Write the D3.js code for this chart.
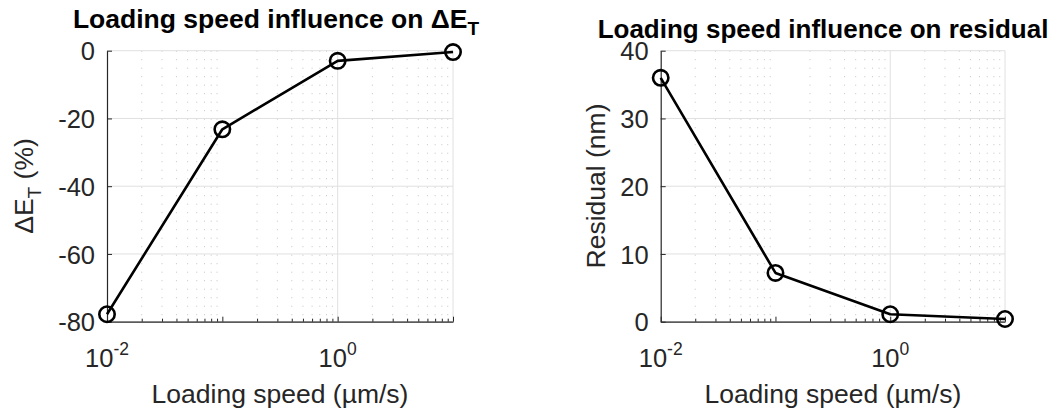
<!DOCTYPE html>
<html>
<head>
<meta charset="utf-8">
<script src="https://cdn.jsdelivr.net/npm/d3@7"></script>
<style>
  html, body { margin: 0; padding: 0; background: #fff; }
  svg { display: block; }
  text { font-family: "Liberation Sans", Arial, Helvetica, sans-serif; }
</style>
</head>
<body>
<svg id="chart" width="1064" height="414"></svg>
<script>
// ---- data ----
const speeds = [0.01, 0.1, 1, 10];                // loading speed (µm/s)
const deltaE = [-77.8, -23.2, -3.0, -0.4];       // ΔE_T (%)
const residual = [36.0, 7.2, 1.1, 0.4];          // residual (nm)
const xTickValues = [0.01, 1];
const xTickExponents = ["-2", "0"];
const leftYTicks = [-80, -60, -40, -20, 0];
const rightYTicks = [0, 10, 20, 30, 40];

const svg = d3.select("#chart");
const axisColor = "#262626";
const FONT = '"Liberation Sans", Arial, Helvetica, sans-serif';

function panel(opts) {
  const g = svg.append("g");
  const x = d3.scaleLog().domain([0.01, 10]).range([opts.left, opts.right]);
  const y = d3.scaleLinear().domain(opts.yDomain).range([opts.bottom, opts.top]);

  // minor vertical grid (dotted)
  const minor = [];
  [0.01, 0.1, 1].forEach(d => { for (let k = 2; k <= 9; k++) minor.push(d * k); });
  g.append("g").selectAll("line").data(minor).join("line")
    .attr("x1", d => x(d)).attr("x2", d => x(d))
    .attr("y1", opts.top).attr("y2", opts.bottom)
    .attr("stroke", "#c4c4c4").attr("stroke-width", 1)
    .attr("stroke-dasharray", "1,7.5");

  // major grid
  g.append("g").selectAll("line").data([1, 10]).join("line")
    .attr("x1", d => x(d)).attr("x2", d => x(d))
    .attr("y1", opts.top).attr("y2", opts.bottom)
    .attr("stroke", "#e0e0e0").attr("stroke-width", 1);
  g.append("g").selectAll("line").data(opts.yTicks).join("line")
    .attr("x1", opts.left).attr("x2", opts.right)
    .attr("y1", d => y(d)).attr("y2", d => y(d))
    .attr("stroke", "#e0e0e0").attr("stroke-width", 1);

  // x axis
  const xAxis = d3.axisBottom(x).tickValues(minor.concat([0.01, 0.1, 1, 10]))
    .tickSize(0).tickFormat("");
  const xg = g.append("g").attr("transform", `translate(0,${opts.bottom})`).call(xAxis);
  xg.select(".domain").attr("stroke", axisColor).attr("stroke-width", 1.2);
  xg.selectAll(".tick line").attr("y2", d => ([0.01, 0.1, 1, 10].includes(d)) ? -5 : -3)
    .attr("stroke", axisColor);
  // x tick labels with superscripts
  const lab = g.append("g").selectAll("text").data(xTickValues).join("text")
    .attr("x", d => x(d)).attr("y", 367)
    .attr("text-anchor", "middle").attr("fill", axisColor)
    .style("font-size", "25.5px");
  lab.append("tspan").text("10");
  lab.append("tspan").attr("dy", -12.5).style("font-size", "17.5px")
    .text((d, i) => xTickExponents[i]);

  // y axis
  const yAxis = d3.axisLeft(y).tickValues(opts.yTicks).tickSize(0).tickPadding(12)
    .tickFormat(d => String(d));
  const yg = g.append("g").attr("transform", `translate(${opts.left},0)`).call(yAxis);
  yg.select(".domain").attr("stroke", axisColor).attr("stroke-width", 1.2);
  yg.selectAll(".tick line").attr("x2", 5).attr("stroke", axisColor);
  yg.selectAll(".tick text").attr("fill", axisColor).attr("dy", "0.36em")
    .style("font-size", "25.5px").style("font-family", FONT);

  // x label
  g.append("text").attr("x", (opts.left + opts.right) / 2).attr("y", 403)
    .attr("text-anchor", "middle").attr("fill", axisColor)
    .style("font-size", "26.5px").text("Loading speed (µm/s)");

  // line + markers
  const pts = speeds.map((s, i) => [s, opts.values[i]]);
  g.append("path").datum(pts)
    .attr("d", d3.line().x(d => x(d[0])).y(d => y(d[1])))
    .attr("fill", "none").attr("stroke", "#000").attr("stroke-width", 2.6)
    .attr("stroke-linejoin", "round");
  g.append("g").selectAll("circle").data(pts).join("circle")
    .attr("cx", d => x(d[0])).attr("cy", d => y(d[1])).attr("r", 7.7)
    .attr("fill", "none").attr("stroke", "#000").attr("stroke-width", 2.6);

  return { g, x, y };
}

const L = panel({ left: 107, right: 453, top: 50.7, bottom: 321.7,
  yDomain: [-80, 0], yTicks: leftYTicks, values: deltaE });
const R = panel({ left: 660.7, right: 1005, top: 50.7, bottom: 321.7,
  yDomain: [0, 40], yTicks: rightYTicks, values: residual });

// titles
const t1 = svg.append("text").attr("x", 276).attr("y", 28).attr("text-anchor", "middle")
  .attr("fill", "#000").style("font-size", "26.5px").style("font-weight", "bold");
t1.append("tspan").text("Loading speed influence on ΔE");
t1.append("tspan").attr("dy", 7).style("font-size", "19px").text("T");

svg.append("text").attr("x", 823).attr("y", 38).attr("text-anchor", "middle")
  .attr("fill", "#000").style("font-size", "26px").style("font-weight", "bold")
  .text("Loading speed influence on residual");

// y labels
const yl1 = svg.append("text").attr("transform", "translate(33,186) rotate(-90)")
  .attr("text-anchor", "middle").attr("fill", axisColor).style("font-size", "26.5px");
yl1.append("tspan").text("ΔE");
yl1.append("tspan").attr("dy", 8).style("font-size", "19px").text("T");
yl1.append("tspan").attr("dy", -8).text(" (%)");

svg.append("text").attr("transform", "translate(605,186) rotate(-90)")
  .attr("text-anchor", "middle").attr("fill", axisColor).style("font-size", "26.5px")
  .text("Residual (nm)");
</script>
</body>
</html>
